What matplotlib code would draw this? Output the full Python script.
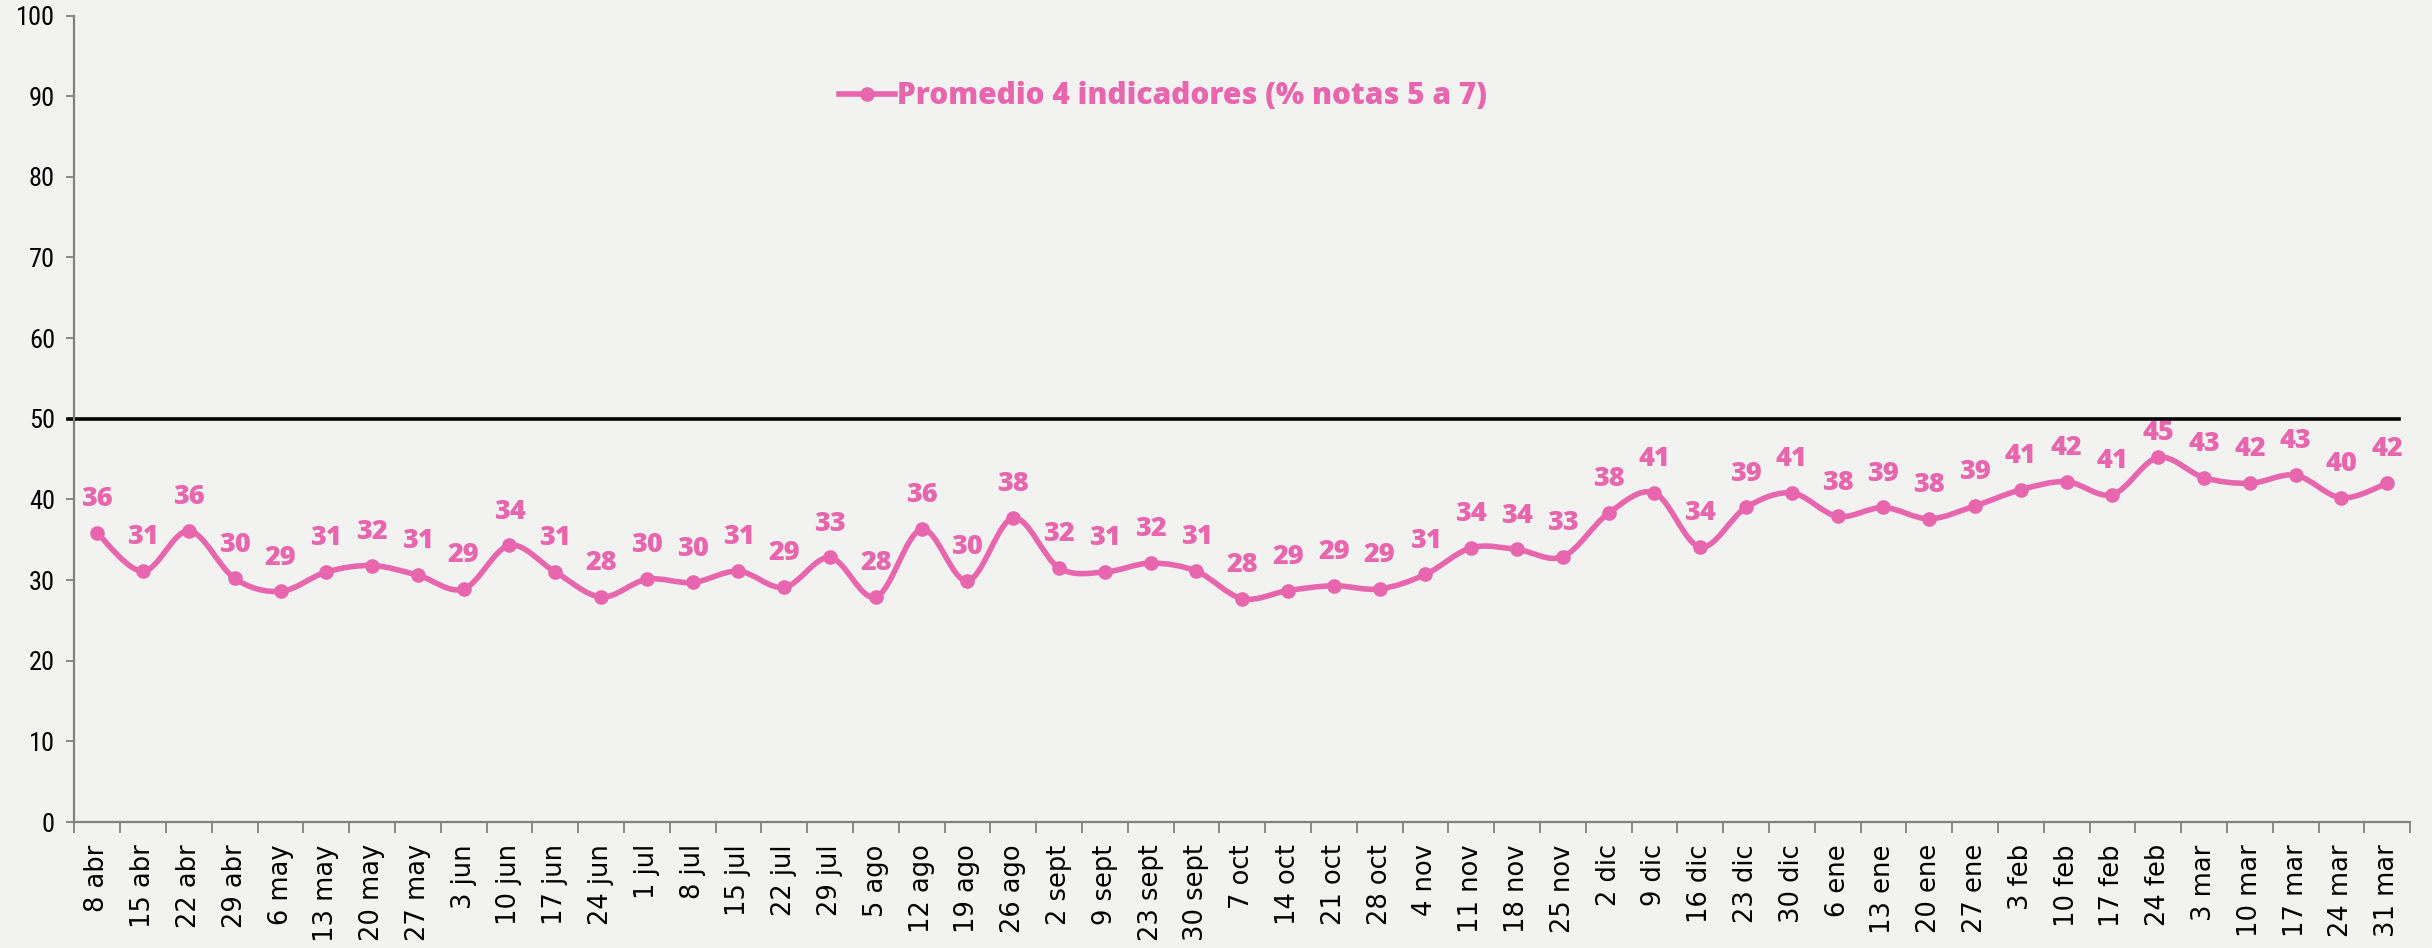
import numpy as np
import matplotlib
matplotlib.use("Agg")
import matplotlib.pyplot as plt
from matplotlib.path import Path
from matplotlib.patches import PathPatch
from matplotlib.lines import Line2D

# weekly dates (categories)
dates = ["8 abr", "15 abr", "22 abr", "29 abr",
         "6 may", "13 may", "20 may", "27 may",
         "3 jun", "10 jun", "17 jun", "24 jun",
         "1 jul", "8 jul", "15 jul", "22 jul", "29 jul",
         "5 ago", "12 ago", "19 ago", "26 ago",
         "2 sept", "9 sept", "23 sept", "30 sept",
         "7 oct", "14 oct", "21 oct", "28 oct",
         "4 nov", "11 nov", "18 nov", "25 nov",
         "2 dic", "9 dic", "16 dic", "23 dic", "30 dic",
         "6 ene", "13 ene", "20 ene", "27 ene",
         "3 feb", "10 feb", "17 feb", "24 feb",
         "3 mar", "10 mar", "17 mar", "24 mar", "31 mar"]

# Promedio 4 indicadores (% notas 5 a 7)
promedio = [35.8, 31.1, 36.1, 30.2,
            28.6, 31.0, 31.8, 30.6,
            28.9, 34.3, 31.0, 27.9,
            30.1, 29.7, 31.1, 29.1, 32.8,
            27.9, 36.3, 29.9, 37.7,
            31.5, 31.0, 32.1, 31.1,
            27.7, 28.7, 29.3, 28.9,
            30.7, 34.0, 33.8, 32.9,
            38.3, 40.8, 34.1, 39.0, 40.8,
            37.9, 39.0, 37.6, 39.2,
            41.2, 42.2, 40.6, 45.2,
            42.7, 42.0, 43.0, 40.2, 42.0]

threshold = 50
series_name = "Promedio 4 indicadores (% notas 5 a 7)"

PINK = "#e766ad"
BG = "#f2f2f1"
NARROW = ["Roboto Condensed", "Liberation Sans Narrow", "DejaVu Sans"]


def smooth_path(x, y, t=1/6):
    # Excel-style smoothed line: Catmull-Rom segments as cubic Bezier curves
    pts = np.column_stack([x, y]).astype(float)
    verts = [pts[0]]
    codes = [Path.MOVETO]
    n = len(pts)
    for i in range(n - 1):
        p0 = pts[i - 1] if i > 0 else pts[i]
        p1 = pts[i]
        p2 = pts[i + 1]
        p3 = pts[i + 2] if i + 2 < n else pts[i + 1]
        c1 = p1 + (p2 - p0) * t
        c2 = p2 - (p3 - p1) * t
        verts += [c1, c2, p2]
        codes += [Path.CURVE4] * 3
    return Path(verts, codes)


fig = plt.figure(figsize=(24.32, 9.48), dpi=100, facecolor=BG)
ax = fig.add_axes([0.0306, 0.1329, 0.9604, 0.8507])
ax.set_facecolor(BG)

x = np.arange(len(dates))

# reference line at 50
ax.plot([-0.65, len(dates) - 0.75], [threshold, threshold], color="black",
        lw=2.6, clip_on=False, zorder=2)

ax.add_patch(PathPatch(smooth_path(x, promedio), facecolor="none",
                       edgecolor=PINK, lw=4.0, capstyle="round", zorder=3))
ax.plot(x, promedio, "o", color=PINK, ms=9.5, zorder=4)

for xi, v in zip(x, promedio):
    # the peak label sits a bit lower so it clears the 50 line
    dy = 8 if v > 44 else 15
    ax.annotate(f"{v:.0f}", (xi, v), xytext=(0, dy), textcoords="offset points",
                ha="center", va="bottom", color=PINK, fontsize=19.5,
                fontweight="heavy", family="Open Sans")

ax.set_xlim(-0.5, len(dates) - 0.5)
ax.set_ylim(0, 100)
ax.set_yticks(np.arange(0, 101, 10))
ax.set_xticks(x)
ax.set_xticklabels(dates, rotation=90, fontsize=18.5, family="DejaVu Sans")
ax.set_xticks(np.arange(-0.5, len(dates), 1), minor=True)
ax.tick_params(axis="x", which="major", length=0, pad=16, colors="black")
ax.tick_params(axis="x", which="minor", length=8, width=1.3, color="#808080")
ax.tick_params(axis="y", length=6, width=1.3, color="#808080", pad=8,
               labelsize=19)
for lab in ax.get_yticklabels():
    lab.set_family(NARROW)

for s in ["top", "right"]:
    ax.spines[s].set_visible(False)
for s in ["left", "bottom"]:
    ax.spines[s].set_color("#808080")
    ax.spines[s].set_linewidth(1.6)

handle = Line2D([], [], color=PINK, lw=4.0, marker="o", ms=9.5)
leg = ax.legend([handle], [series_name], loc="center", bbox_to_anchor=(0.466, 0.9),
                frameon=False, handlelength=1.9, handletextpad=0.05,
                prop={"family": "Open Sans", "weight": "heavy", "size": 21.5})
for txt in leg.get_texts():
    txt.set_color(PINK)

fig.savefig("out.png", dpi=100, facecolor=BG)
